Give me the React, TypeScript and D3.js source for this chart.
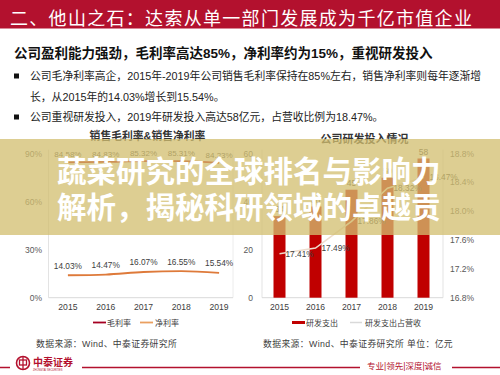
import React from "react";
import * as d3 from "d3";

const years = ["2015", "2016", "2017", "2018", "2019"];
const grossMargin = [84.58, 84.83, 85.32, 85.31, 84.23];
const netMargin = [14.03, 14.47, 16.07, 16.55, 15.54];
const rdSpend = [34, 38, 45, 50, 58];
const rdRatio = [17.41, 17.49, 17.86, 18.32, 18.47];
const leftTicks = [0, 30, 60, 90];
const barTicks = [0, 20, 40, 60];
const pctTicks = [16.8, 17.2, 17.6, 18.0, 18.4, 18.8];

const CJK = "'Liberation Sans', 'Noto Sans CJK SC', sans-serif";
const RED = "#b3112e";

export default function App() {
  const top = 153.7;
  const base = 297.7;
  const xL = d3.scaleBand<string>().domain(years).range([49, 238]);
  const xR = d3.scaleBand<string>().domain(years).range([261.5, 441.5]);
  const yL = d3.scaleLinear().domain([0, 90]).range([base, top]);
  const yB = d3.scaleLinear().domain([0, 60]).range([base, top]);
  const yP = d3.scaleLinear().domain([16.8, 18.8]).range([base, top]);
  const cL = (y: string) => (xL(y) as number) + xL.bandwidth() / 2;
  const cR = (y: string) => (xR(y) as number) + xR.bandwidth() / 2;

  const grossPath = d3
    .line<number>()
    .x((_, i) => cL(years[i]))
    .y((d) => yL(d))
    .curve(d3.curveMonotoneX)(grossMargin) as string;
  const netPath = d3
    .line<number>()
    .x((_, i) => cL(years[i]))
    .y((d) => yL(d))
    .curve(d3.curveMonotoneX)(netMargin) as string;
  const ratioPath = d3
    .line<number>()
    .x((_, i) => cR(years[i]))
    .y((d) => yP(d))(rdRatio) as string;
  const barW = 12;

  return (
    <svg
      width={500}
      height={375}
      style={{ position: "absolute", left: 0, top: 0, background: "#fff" }}
      fontFamily={CJK}
    >
      <rect x={0} y={0} width={500} height={375} fill="#fff" />
      {/* header */}
      <rect x={0} y={0} width={500} height={28.5} fill={RED} />
      <text x={10} y={24.5} fill="#fff" fontSize={18} letterSpacing={1.3}>
        二、他山之石：达索从单一部门发展成为千亿市值企业
      </text>
      <text x={14} y={58} fill="#111" fontSize={13.5} fontWeight={700}>
        公司盈利能力强劲，毛利率高达85%，净利率约为15%，重视研发投入
      </text>
      <rect x={14} y={73.5} width={5} height={5} fill="#111" />
      <text x={30} y={80} fill="#222" fontSize={10.8}>
        公司毛净利率高企，2015年-2019年公司销售毛利率保持在85%左右，销售净利率则每年逐渐增
      </text>
      <text x={30} y={101.3} fill="#222" fontSize={10.8}>
        长，从2015年的14.03%增长到15.54%。
      </text>
      <rect x={14} y={114.5} width={5} height={5} fill="#111" />
      <text x={30} y={121.3} fill="#222" fontSize={10.8}>
        公司重视研发投入，2019年研发投入高达58亿元，占营收比例为18.47%。
      </text>

      {/* chart titles */}
      <text x={147.5} y={139.5} textAnchor="middle" fontSize={10.8} fontWeight={700} fill="#333">
        销售毛利率&销售净利率
      </text>
      <text x={364.5} y={143} textAnchor="middle" fontSize={11} fontWeight={700} fill="#333">
        公司研发投入情况
      </text>

      {/* left chart */}
      <line x1={48.5} x2={48.5} y1={top - 4} y2={base} stroke="#e3e3e3" />
      <line x1={233} x2={233} y1={top - 4} y2={base} stroke="#ececec" />
      <line x1={48.5} x2={233} y1={base} y2={base} stroke="#d9d9d9" />
      {leftTicks.map((t) => (
        <text key={t} x={42} y={yL(t)} dy="0.35em" textAnchor="end" fontSize={8.5} fill="#595959">
          {t}%
        </text>
      ))}
      <path d={grossPath} fill="none" stroke="#c00000" strokeWidth={1.8} />
      <path d={netPath} fill="none" stroke="#de7a3a" strokeWidth={1.8} />
      {grossMargin.map((v, i) => (
        <text key={"g" + i} x={cL(years[i])} y={yL(v) - 5} textAnchor="middle" fontSize={8} fill="#404040">
          {v.toFixed(2)}%
        </text>
      ))}
      {netMargin.map((v, i) => (
        <text key={"n" + i} x={cL(years[i])} y={yL(v) - 6.5} textAnchor="middle" fontSize={8.3} fill="#404040">
          {v.toFixed(2)}%
        </text>
      ))}
      {years.map((y) => (
        <text key={"xl" + y} x={cL(y)} y={310} textAnchor="middle" fontSize={8.6} fill="#404040">
          {y}
        </text>
      ))}
      <line x1={93} x2={106} y1={322.5} y2={322.5} stroke="#a50021" strokeWidth={1.8} />
      <text x={107} y={325.5} fontSize={8} fill="#404040">毛利率</text>
      <line x1={140} x2={153} y1={322.5} y2={322.5} stroke="#eaa060" strokeWidth={1.8} />
      <text x={155} y={325.5} fontSize={8} fill="#404040">净利率</text>
      <text x={36} y={346.5} fontSize={8.8} fill="#404040" letterSpacing={0.4}>
        数据来源：Wind、中泰证券研究所
      </text>

      {/* right chart */}
      <line x1={262} x2={262} y1={top - 4} y2={base} stroke="#e3e3e3" />
      <line x1={443} x2={443} y1={top - 4} y2={base} stroke="#e3e3e3" />
      <line x1={262} x2={443} y1={base} y2={base} stroke="#d9d9d9" />
      {barTicks.map((t) => (
        <text key={"b" + t} x={253} y={yB(t)} dy="0.35em" textAnchor="end" fontSize={8.5} fill="#595959">
          {t}
        </text>
      ))}
      {pctTicks.map((t) => (
        <text key={"p" + t} x={450} y={yP(t)} dy="0.35em" fontSize={8.5} fill="#595959">
          {t.toFixed(1)}%
        </text>
      ))}
      {rdSpend.map((v, i) => (
        <rect key={"r" + i} x={cR(years[i]) - barW / 2} y={yB(v)} width={barW} height={base - yB(v)} fill="#c00000" />
      ))}
      {rdSpend.map((v, i) => (
        <text key={"rl" + i} x={cR(years[i])} y={yB(v) - 4} textAnchor="middle" fontSize={8.5} fill="#404040">
          {v}
        </text>
      ))}
      <path d={ratioPath} fill="none" stroke="#eddccc" strokeWidth={1.6} />
      {rdRatio.map((v, i) => (
        <text key={"pl" + i} x={cR(years[i]) + 6} y={yP(v)} dy="0.35em" fontSize={8.3} fill="#404040">
          {v.toFixed(2)}%
        </text>
      ))}
      {years.map((y) => (
        <text key={"xr" + y} x={cR(y)} y={310} textAnchor="middle" fontSize={8.6} fill="#404040">
          {y}
        </text>
      ))}
      <rect x={292} y={321} width={13} height={3} fill="#c00000" />
      <text x={306} y={325.5} fontSize={8} fill="#404040">研发支出</text>
      <line x1={350} x2={362} y1={322.5} y2={322.5} stroke="#d9d9d9" strokeWidth={1.5} />
      <text x={365} y={325.5} fontSize={8} fill="#404040">研发支出占营收</text>
      <text x={263} y={346.5} fontSize={8.8} fill="#404040" letterSpacing={0.4}>
        数据来源：Wind、中泰证券研究所  单位：亿元
      </text>

      {/* overlay */}
      <rect x={0} y={139} width={500} height={96} fill="rgb(210,190,112)" fillOpacity={0.76} />
      <text x={57} y={182} fontSize={29.5} fontWeight={700} fill="#fff" fontFamily="'Noto Sans CJK SC', sans-serif">
        蔬菜研究的全球排名与影响力
      </text>
      <text x={57} y={218} fontSize={29.5} fontWeight={700} fill="#fff" fontFamily="'Noto Sans CJK SC', sans-serif">
        解析，揭秘科研领域的卓越贡
      </text>

      {/* footer */}
      <line x1={0} x2={10} y1={367.5} y2={367.5} stroke={RED} strokeWidth={1.5} />
      <circle cx={23} cy={363} r={6.5} fill="none" stroke={RED} strokeWidth={1.6} />
      <rect x={19.5} y={360} width={7} height={5} fill="none" stroke={RED} strokeWidth={1.3} />
      <line x1={23} x2={23} y1={357} y2={369} stroke={RED} strokeWidth={1.3} />
      <text x={33} y={366} fontSize={10} fontWeight={700} fill={RED}>中泰证券</text>
      <text x={33} y={371} fontSize={2.6} fill={RED}>ZHONGTAI SECURITIES</text>
      <line x1={82} x2={360} y1={367.5} y2={367.5} stroke={RED} strokeWidth={1.5} />
      <text x={367} y={369} fontSize={8.5} fill={RED}>专业|领先|深度|诚信</text>
      <line x1={452} x2={500} y1={367.5} y2={367.5} stroke={RED} strokeWidth={1.5} />
    </svg>
  );
}
